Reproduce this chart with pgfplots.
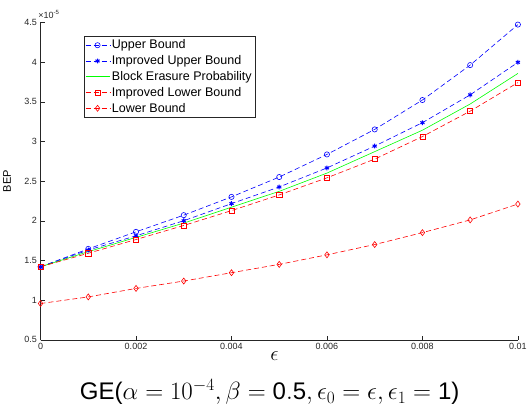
\documentclass[border=0pt]{standalone}
\usepackage{fontspec}
\setmainfont{Liberation Sans}
\usepackage{pgfplots}
\pgfplotsset{compat=1.18}

\definecolor{axgray}{rgb}{0.15,0.15,0.15}

\begin{document}
\begin{tikzpicture}
\begin{axis}[
    scale only axis,
    width=475bp, height=316bp,
    xmin=0, xmax=0.01,
    ymin=0.5, ymax=4.5,
    axis lines*=left,
    axis line style={axgray},
    tick align=inside,
    tick style={axgray},
    xtick={0,0.002,0.004,0.006,0.008,0.01},
    ytick={0.5,1,1.5,2,2.5,3,3.5,4,4.5},
    scaled x ticks=false,
    xticklabel style={/pgf/number format/fixed, /pgf/number format/precision=3},
    /pgf/number format/assume math mode=true,
    tick label style={font=\fontsize{9}{10}\selectfont, text=axgray},
    ylabel={BEP},
    ylabel style={at={(axis description cs:-0.07,0.5)}, anchor=center, rotate=0, font=\fontsize{11}{12}\selectfont},
    xlabel={$\epsilon$},
    xlabel style={at={(axis description cs:0.49,-0.05)}, anchor=center, font=\fontsize{22}{24}\selectfont},
    legend style={at={(axis description cs:0.09,0.956)}, anchor=north west,
        draw=axgray, font=\fontsize{12.5}{14}\selectfont, row sep=1.2pt,
        inner sep=1.5pt},
    legend cell align=left,
    legend image code/.code={
        \draw[mark repeat=2, mark phase=2, #1] plot coordinates {(0bp,0bp) (12bp,0bp) (24bp,0bp)};},
    every axis plot/.append style={line width=0.6pt},
    clip=false,
]
\addplot[blue, dash pattern=on 5pt off 3pt, mark=o, mark size=2.6pt, mark options={solid}] coordinates {
(0,1.42) (0.001,1.645) (0.002,1.86) (0.003,2.07) (0.004,2.30) (0.005,2.55)
(0.006,2.835) (0.007,3.15) (0.008,3.52) (0.009,3.96) (0.01,4.47)};
\addlegendentry{Upper Bound}
\addplot[blue, dash pattern=on 5pt off 3pt, mark=asterisk, mark size=2.4pt, mark options={solid, line width=1pt}] coordinates {
(0,1.42) (0.001,1.63) (0.002,1.81) (0.003,2.00) (0.004,2.215) (0.005,2.425)
(0.006,2.665) (0.007,2.94) (0.008,3.235) (0.009,3.585) (0.01,3.995)};
\addlegendentry{Improved Upper Bound}
\addplot[green, solid, mark=none] coordinates {
(0,1.42) (0.001,1.61) (0.002,1.79) (0.003,1.97) (0.004,2.17) (0.005,2.37)
(0.006,2.60) (0.007,2.87) (0.008,3.14) (0.009,3.47) (0.01,3.855)};
\addlegendentry{Block Erasure Probability}
\addplot[red, dash pattern=on 5pt off 3pt, mark=square, mark size=2.6pt, mark options={solid}] coordinates {
(0,1.42) (0.001,1.59) (0.002,1.763) (0.003,1.94) (0.004,2.127) (0.005,2.325)
(0.006,2.54) (0.007,2.776) (0.008,3.06) (0.009,3.38) (0.01,3.74)};
\addlegendentry{Improved Lower Bound}
\addplot[red, dash pattern=on 5pt off 3pt, mark=diamond, mark size=3pt, mark options={solid}] coordinates {
(0,0.957) (0.001,1.04) (0.002,1.147) (0.003,1.24) (0.004,1.345) (0.005,1.45)
(0.006,1.57) (0.007,1.70) (0.008,1.85) (0.009,2.01) (0.01,2.21)};
\addlegendentry{Lower Bound}
\node[anchor=south west, font=\fontsize{9}{10}\selectfont, text=axgray, inner sep=0pt]
    at (axis description cs:-0.005,1.012) {×10\textsuperscript{-5}};
\path (axis description cs:0,1.07);
\node[anchor=center, font=\fontsize{24}{26}\selectfont]
    at (axis description cs:0.48,-0.165)
    {GE($\alpha=10^{-4},\beta=\mathrm{0.5},\epsilon_0=\epsilon,\epsilon_1=\mathrm{1}$)};
\end{axis}
\end{tikzpicture}
\end{document}
